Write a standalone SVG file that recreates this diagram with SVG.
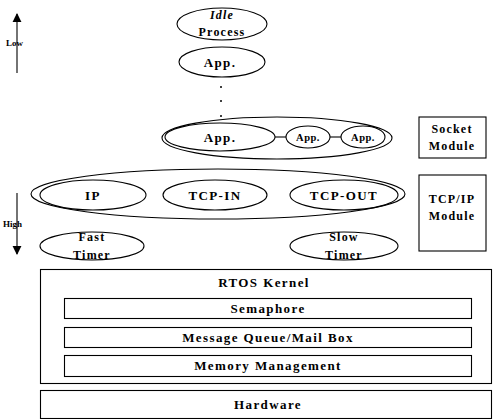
<svg xmlns="http://www.w3.org/2000/svg" width="493" height="419" viewBox="0 0 493 419">
<style>
.s{fill:none;stroke:#000;stroke-width:1.1}
.t{font-family:"Liberation Serif","Times New Roman",serif;font-weight:bold;fill:#000;text-anchor:middle}
.m{font-size:13px;letter-spacing:1.4px}
.n{font-size:12px;letter-spacing:1.2px}
.x{font-size:10.5px;letter-spacing:0.5px}
.l{font-size:9px;text-anchor:start}
</style>
<defs>
<marker id="ah" viewBox="0 0 10 10" refX="9" refY="5" markerWidth="9" markerHeight="15" markerUnits="userSpaceOnUse" orient="auto">
<path d="M0,0 L10,5 L0,10 Z" fill="#000"/>
</marker>
</defs>
<rect width="493" height="419" fill="#fff"/>
<g id="priority">
<line class="s" x1="17" y1="73" x2="17" y2="14" marker-end="url(#ah)"/>
<text class="t l" x="6" y="46">Low</text>
<line class="s" x1="17" y1="193" x2="17" y2="254" marker-end="url(#ah)"/>
<text class="t l" x="3" y="227">High</text>
</g>
<g id="idle">
<ellipse class="s" cx="222" cy="24" rx="45" ry="16"/>
<text class="t n" x="222" y="19" font-style="italic">Idle</text>
<text class="t n" x="222" y="36">Process</text>
</g>
<g id="app-top">
<ellipse class="s" cx="222" cy="62" rx="43" ry="15"/>
<text class="t m" x="220" y="67">App.</text>
</g>
<g id="dots" fill="#000">
<circle cx="221" cy="87" r="1"/>
<circle cx="221" cy="101" r="1"/>
<circle cx="221" cy="116" r="1"/>
</g>
<g id="socket-group">
<ellipse class="s" cx="277" cy="138" rx="115" ry="21"/>
</g>
<g id="connectors">
<line class="s" x1="275" y1="137" x2="286" y2="137"/>
<line class="s" x1="330" y1="137" x2="341" y2="137"/>
</g>
<g id="app-big">
<ellipse class="s" cx="220" cy="137" rx="55" ry="14"/>
<text class="t m" x="220" y="142">App.</text>
</g>
<g id="app-2">
<ellipse class="s" cx="308" cy="137" rx="22" ry="11"/>
<text class="t x" x="308" y="141">App.</text>
</g>
<g id="app-3">
<ellipse class="s" cx="363" cy="137" rx="22" ry="11"/>
<text class="t x" x="363" y="141">App.</text>
</g>
<g id="socket-module">
<rect class="s" x="419" y="117" width="67" height="41"/>
<text class="t n" x="452" y="133">Socket</text>
<text class="t n" x="452" y="150">Module</text>
</g>
<g id="tcpip-group">
<ellipse class="s" cx="218" cy="194" rx="187" ry="25"/>
</g>
<g id="ip">
<ellipse class="s" cx="93" cy="195" rx="53" ry="15"/>
<text class="t m" x="93" y="200">IP</text>
</g>
<g id="tcp-in">
<ellipse class="s" cx="215" cy="195" rx="52" ry="15"/>
<text class="t m" x="215" y="200">TCP-IN</text>
</g>
<g id="tcp-out">
<ellipse class="s" cx="344" cy="195" rx="54" ry="15"/>
<text class="t m" x="344" y="200">TCP-OUT</text>
</g>
<g id="tcpip-module">
<rect class="s" x="419" y="175" width="67" height="76"/>
<text class="t n" x="452" y="203">TCP/IP</text>
<text class="t n" x="452" y="220">Module</text>
</g>
<g id="fast-timer">
<ellipse class="s" cx="92" cy="246" rx="52" ry="14"/>
<text class="t n" x="92" y="241">Fast</text>
<text class="t n" x="92" y="259">Timer</text>
</g>
<g id="slow-timer">
<ellipse class="s" cx="344" cy="246" rx="54" ry="14"/>
<text class="t n" x="344" y="241">Slow</text>
<text class="t n" x="344" y="259">Timer</text>
</g>
<g id="rtos-kernel">
<rect class="s" x="40.5" y="269.5" width="451" height="114"/>
<text class="t m" x="264" y="287">RTOS Kernel</text>
</g>
<g id="semaphore">
<rect class="s" x="64.5" y="298.5" width="407" height="20"/>
<text class="t m" x="268" y="313">Semaphore</text>
</g>
<g id="message-queue">
<rect class="s" x="64.5" y="327.5" width="407" height="20"/>
<text class="t m" x="268" y="342">Message Queue/Mail Box</text>
</g>
<g id="memory-management">
<rect class="s" x="64.5" y="355.5" width="407" height="21"/>
<text class="t m" x="268" y="370">Memory Management</text>
</g>
<g id="hardware">
<rect class="s" x="40.5" y="390.5" width="451" height="28"/>
<text class="t m" x="268" y="409">Hardware</text>
</g>
</svg>
